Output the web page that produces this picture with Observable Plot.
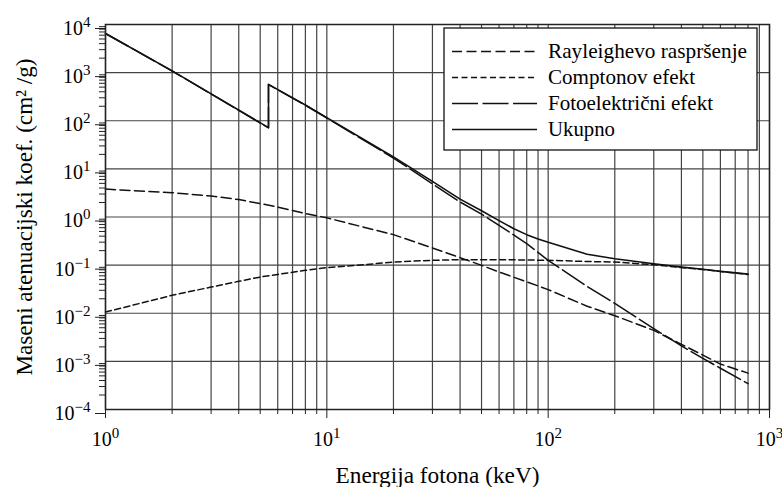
<!DOCTYPE html>
<html><head><meta charset="utf-8">
<script src="https://cdn.jsdelivr.net/npm/d3@7"></script>
<script src="https://cdn.jsdelivr.net/npm/@observablehq/plot@0.6"></script>
<style>
html,body{margin:0;padding:0;background:#fff;}
#chart{width:782px;height:487px;}
#chart svg text, #chart svg tspan { font-family: "Times New Roman", Times, "Liberation Serif", "Nimbus Roman", "DejaVu Serif", "Noto Serif", serif !important; }
</style></head><body><div id="chart"></div>
<script>
// ---- data ----
const seriesNames = ["Rayleighevo raspršenje", "Comptonov efekt", "Fotoelektrični efekt", "Ukupno"];

const rayleighE = [1, 2, 3, 4, 5, 6, 8, 10, 15, 20, 30, 40, 50, 60, 80, 100, 150, 200, 300, 400, 500, 600, 800];
const rayleighV = [3.8, 3.2, 2.73, 2.3, 1.9, 1.61, 1.18, 0.96, 0.6, 0.43, 0.227, 0.143, 0.099, 0.072, 0.045, 0.031, 0.014, 0.0089, 0.0044, 0.00226, 0.00135, 0.00088, 0.00057];

const comptonE = [1, 2, 3, 4, 5, 6, 8, 10, 15, 20, 30, 40, 60, 100, 150, 200, 300, 400, 500, 600, 800];
const comptonV = [0.0106, 0.0236, 0.035, 0.046, 0.0566, 0.064, 0.078, 0.089, 0.103, 0.116, 0.126, 0.13, 0.13, 0.126, 0.119, 0.116, 0.102, 0.089, 0.081, 0.074, 0.064];

const photoE = [1, 2, 5.45, 5.45, 8, 10, 20, 30, 40, 50, 60, 80, 100, 150, 200, 300, 400, 500, 600, 800];
const photoV = [6500, 1080, 71, 565, 210, 114, 16.8, 4.9, 2.05, 1.15, 0.67, 0.28, 0.126, 0.036, 0.016, 0.0048, 0.0021, 0.00115, 0.00072, 0.000345];

const totalE = [1, 2, 5.45, 5.45, 8, 10, 20, 30, 40, 50, 60, 70, 80, 90, 100, 150, 200, 300, 400, 500, 600, 800];
const totalV = [6500, 1085, 72, 570, 213, 116, 17.7, 5.5, 2.35, 1.35, 0.84, 0.57, 0.43, 0.35, 0.30, 0.168, 0.136, 0.107, 0.091, 0.082, 0.074, 0.065];

const xTitle = "Energija fotona (keV)";
const yTitle = "Maseni atenuacijski koef. (cm² /g)";

const xMajorTicks = [1, 10, 100, 1000];
const xMinorTicks = [2, 3, 4, 5, 6, 7, 8, 9, 20, 30, 40, 50, 60, 70, 80, 90, 200, 300, 400, 500, 600, 700, 800, 900];
const yMajorTicks = [1e-4, 1e-3, 1e-2, 1e-1, 1, 10, 100, 1000, 10000];
const yMinorTicks = [];
for (const d of yMajorTicks.slice(0, -1)) for (let k = 2; k <= 9; k++) yMinorTicks.push(d * k);

const toRows = (E, V) => E.map((e, i) => ({E: e, v: V[i]}));
const rayleigh = toRows(rayleighE, rayleighV);
const compton = toRows(comptonE, comptonV);
const photo = toRows(photoE, photoV);
const total = toRows(totalE, totalV);

const dashes = ["10,4.5", "6,3.5", "26,4.5", null];
const expFmt = d => "10^" + String(Math.round(Math.log10(d))).replace("-", "\u2212");
const serif = "'Times New Roman', 'Liberation Serif', serif";

const chart = Plot.plot({
  width: 782,
  height: 487,
  marginLeft: 105,
  marginRight: 13,
  marginTop: 24,
  marginBottom: 78,
  style: {fontFamily: serif, fontSize: "20px", background: "#fff", color: "#000", overflow: "visible"},
  x: {type: "log", domain: [1, 1000], label: null},
  y: {type: "log", domain: [1e-4, 1e4], label: null},
  marks: [
    Plot.ruleX([...xMinorTicks, ...xMajorTicks], {stroke: "#444", strokeWidth: 1.2}),
    Plot.ruleY(yMajorTicks, {stroke: "#444", strokeWidth: 1.2}),
    Plot.axisX({ticks: xMinorTicks, tickSize: 5, tickFormat: () => "", label: null, stroke: "#222"}),
    Plot.axisX({ticks: xMajorTicks, tickSize: 9, tickPadding: 13, tickFormat: expFmt, label: null, stroke: "#222", fontSize: 20}),
    Plot.axisY({ticks: yMinorTicks, tickSize: 6, tickFormat: () => "", label: null, stroke: "#222"}),
    Plot.axisY({ticks: yMajorTicks, tickSize: 10, tickPadding: 5, dy: 4, tickFormat: expFmt, label: null, stroke: "#222", fontSize: 20}),
    Plot.line(rayleigh, {x: "E", y: "v", stroke: "#111", strokeWidth: 1.5, strokeDasharray: dashes[0]}),
    Plot.line(compton, {x: "E", y: "v", stroke: "#111", strokeWidth: 1.5, strokeDasharray: dashes[1]}),
    Plot.line(photo, {x: "E", y: "v", stroke: "#111", strokeWidth: 1.5, strokeDasharray: dashes[2]}),
    Plot.line(total, {x: "E", y: "v", stroke: "#111", strokeWidth: 1.6}),
    Plot.frame({stroke: "#222", strokeWidth: 1.5}),
    Plot.text([xTitle], {frameAnchor: "bottom", dy: 66, text: d => d, fontSize: 23, textAnchor: "middle", lineAnchor: "middle"}),
    Plot.text([yTitle], {frameAnchor: "left", dx: -81, rotate: -90, text: d => d, fontSize: 23, textAnchor: "middle", lineAnchor: "middle"})
  ]
});

// superscript exponents on tick labels; fit axis titles to the reference extents
const titleLengths = new Map([[xTitle, 204], [yTitle, 317]]);
d3.select(chart).selectAll("text").each(function () {
  const txt = this.textContent;
  if (titleLengths.has(txt)) {
    d3.select(this).attr("textLength", titleLengths.get(txt)).attr("lengthAdjust", "spacingAndGlyphs");
    return;
  }
  const m = /^10\^(\u2212?\d+)$/.exec(txt);
  if (!m) return;
  const t = d3.select(this);
  t.text(null);
  t.append("tspan").text("10");
  t.append("tspan").attr("dy", "-8").attr("font-size", "15px").text(m[1]);
});

// legend box in the upper right corner of the frame
const legendLengths = [199, 147, 165, 67];
const xs = chart.scale("x"), ys = chart.scale("y");
const frameRight = xs.apply(1000), frameTop = ys.apply(1e4);
const boxW = 313, boxH = 122;
const bx = frameRight - 12 - boxW, by = frameTop + 4;
const lg = d3.select(chart).append("g").attr("font-family", serif).attr("font-size", 21).attr("text-anchor", "start");
lg.append("rect").attr("x", bx).attr("y", by).attr("width", boxW).attr("height", boxH)
  .attr("fill", "#fff").attr("stroke", "#111").attr("stroke-width", 1.3);
seriesNames.forEach((name, i) => {
  const ry = by + 23.5 + i * 26;
  const ln = lg.append("line").attr("x1", bx + 8).attr("x2", bx + 93).attr("y1", ry).attr("y2", ry)
    .attr("stroke", "#111").attr("stroke-width", 1.5);
  if (dashes[i]) ln.attr("stroke-dasharray", dashes[i]);
  lg.append("text").attr("x", bx + 104).attr("y", ry + 6).attr("fill", "#000").attr("text-anchor", "start")
    .attr("textLength", legendLengths[i]).attr("lengthAdjust", "spacingAndGlyphs").text(name);
});

document.getElementById("chart").appendChild(chart);
</script>
</body></html>
